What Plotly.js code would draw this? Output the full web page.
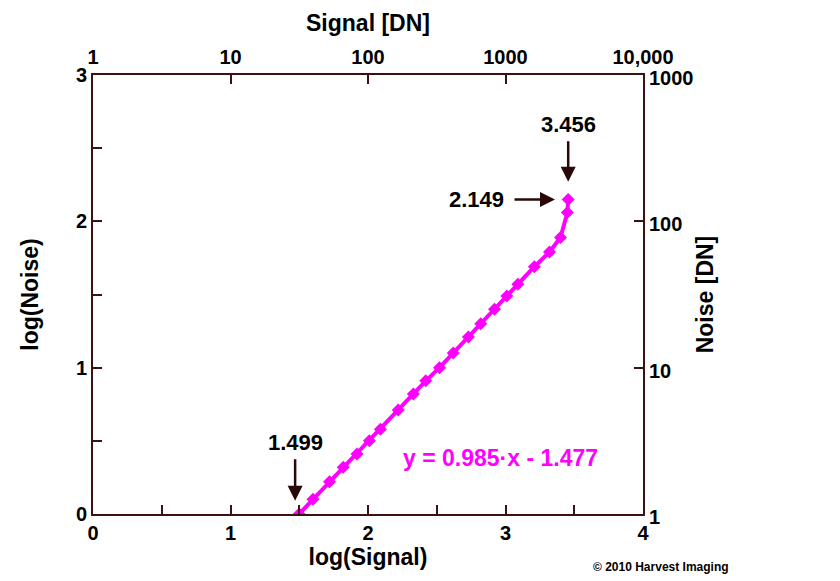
<!DOCTYPE html>
<html>
<head>
<meta charset="utf-8">
<script src="https://cdn.plot.ly/plotly-3.0.1.min.js"></script>
<style>html,body{margin:0;padding:0;background:#fff;}#chart{width:840px;height:581px;}</style>
</head>
<body>
<div id="chart"></div>
<script>
// log(Signal) and log(Noise) values
const logSignal = [1.499,1.60,1.72,1.82,1.92,2.01,2.09,2.22,2.33,2.42,2.52,2.62,2.73,2.82,2.92,3.01,3.09,3.21,3.32,3.40,3.45,3.456];
const logNoise  = [0.000,0.10,0.22,0.32,0.41,0.50,0.58,0.71,0.82,0.91,1.00,1.10,1.21,1.30,1.40,1.49,1.57,1.69,1.79,1.89,2.06,2.149];

const bottomTickVals = [0,0.5,1,1.5,2,2.5,3,3.5,4];
const bottomTickText = ['0','','1','','2','','3','','4'];
const leftTickVals = [0,0.5,1,1.5,2,2.5,3];
const leftTickText = ['0','','1','','2','','3'];
const topTickVals = [1,10,100,1000,10000];
const topTickText = ['1','10','100','1000','10,000'];
const rightTickVals = [1,10,100,1000];
const rightTickText = ['1','10','100','1000'];

const fitLabel = 'y = 0.985\u00b7x - 1.477';

const AX = '#3b1111';
const FONT = 'Liberation Sans, Arial, sans-serif';
const tickFont = {family: FONT, size: 20, color: '#000', weight: 'bold'};
const titleFont = {family: FONT, size: 23, color: '#000', weight: 'bold'};
const annFont = {family: FONT, size: 22, color: '#000', weight: 'bold'};

const traces = [
  {
    x: logSignal, y: logNoise, type: 'scatter', mode: 'lines+markers',
    line: {color: '#ff00ff', width: 4},
    marker: {symbol: 'diamond', size: 10, color: '#ff00ff'},
    xaxis: 'x', yaxis: 'y', hoverinfo: 'skip', showlegend: false
  },
  {
    x: [1, 10000], y: [1, 1000], type: 'scatter', mode: 'markers',
    marker: {opacity: 0}, xaxis: 'x2', yaxis: 'y2', hoverinfo: 'skip', showlegend: false
  }
];

const baseAxis = {
  showline: true, linecolor: AX, linewidth: 2, showgrid: false, zeroline: false,
  ticks: 'inside', ticklen: 9, tickwidth: 2, tickcolor: AX, tickfont: tickFont
};

const layout = {
  width: 840, height: 581,
  margin: {l: 93, r: 197, t: 75, b: 67},
  paper_bgcolor: '#fff', plot_bgcolor: '#fff',
  showlegend: false,
  xaxis: Object.assign({}, baseAxis, {
    range: [0, 4], tickmode: 'array', tickvals: bottomTickVals, ticktext: bottomTickText,
    title: {text: 'log(Signal)', font: titleFont, standoff: 5}
  }),
  yaxis: Object.assign({}, baseAxis, {
    range: [0, 3], tickmode: 'array', tickvals: leftTickVals, ticktext: leftTickText,
    title: {text: 'log(Noise)', font: titleFont, standoff: 31}
  }),
  xaxis2: Object.assign({}, baseAxis, {
    type: 'log', range: [0, 4], overlaying: 'x', side: 'top', anchor: 'y',
    tickmode: 'array', tickvals: topTickVals, ticktext: topTickText,
    ticklabelstandoff: 1,
    title: {text: 'Signal [DN]', font: titleFont, standoff: 8}
  }),
  yaxis2: Object.assign({}, baseAxis, {
    type: 'log', range: [0, 3], overlaying: 'y', side: 'right', anchor: 'x',
    tickmode: 'array', tickvals: rightTickVals, ticktext: rightTickText,
    ticklabelshift: 3,
    title: {text: 'Noise [DN]', font: titleFont, standoff: 4}
  }),
  annotations: [
    {xref: 'x', yref: 'y', x: 3.456, y: 2.27, ax: 0, ay: -42, text: '', showarrow: true,
     arrowhead: 2, arrowsize: 1.2, arrowwidth: 2.5, arrowcolor: '#2a0808'},
    {xref: 'x', yref: 'y', x: 3.456, y: 2.66, text: '3.456', showarrow: false, font: annFont},
    {xref: 'x', yref: 'y', x: 3.36, y: 2.149, ax: -42, ay: 0, text: '', showarrow: true,
     arrowhead: 2, arrowsize: 1.2, arrowwidth: 2.5, arrowcolor: '#2a0808'},
    {xref: 'x', yref: 'y', x: 2.79, y: 2.149, text: '2.149', showarrow: false, font: annFont},
    {xref: 'x', yref: 'y', x: 1.47, y: 0.09, ax: 0, ay: -43, text: '', showarrow: true,
     arrowhead: 2, arrowsize: 1.2, arrowwidth: 2.5, arrowcolor: '#2a0808'},
    {xref: 'x', yref: 'y', x: 1.47, y: 0.49, text: '1.499', showarrow: false, font: annFont},
    {xref: 'x', yref: 'y', x: 2.96, y: 0.38, text: fitLabel, showarrow: false,
     font: {family: FONT, size: 23, color: '#ff00ff', weight: 'bold'}},
    {xref: 'paper', yref: 'paper', x: 1.033, y: -0.12, xanchor: 'center', yanchor: 'middle',
     text: '\u00a9 2010 Harvest Imaging', showarrow: false,
     font: {family: FONT, size: 12, color: '#000', weight: 'bold'}}
  ]
};

Plotly.newPlot('chart', traces, layout, {displayModeBar: false, staticPlot: true});
</script>
</body>
</html>
